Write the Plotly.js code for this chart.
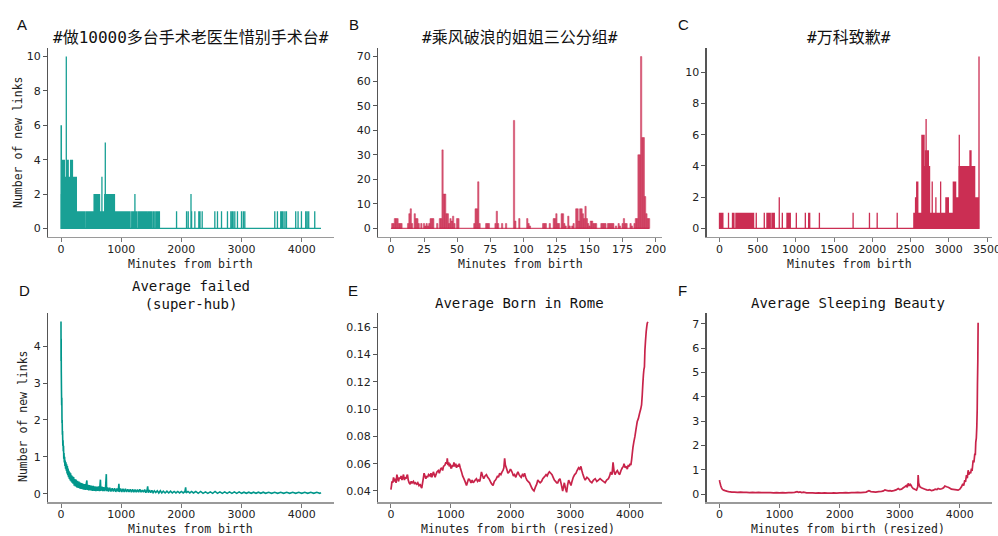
<!DOCTYPE html>
<html><head><meta charset="utf-8">
<script src="https://cdn.plot.ly/plotly-3.0.1.min.js"></script>
<style>body{margin:0;background:#fff}#chart{width:998px;height:536px}</style>
</head><body><div id="chart"></div>
<script>
// ---------- DATA ----------
const panelLetters = ["A","B","C","D","E","F"];
const titles = ["#做10000多台手术老医生惜别手术台#","#乘风破浪的姐姐三公分组#","#万科致歉#",
  "Average failed<br>(super-hub)","Average Born in Rome","Average Sleeping Beauty"];
const xTitles = ["Minutes from birth","Minutes from birth","Minutes from birth",
  "Minutes from birth","Minutes from birth (resized)","Minutes from birth (resized)"];
const yTitle = "Number of new links";

// A: [minute, new links] (non-zero minutes), series ends at minute 4320
const A_end = 4320;
const A_events = [[0,2],[2,6],[4,4],[6,6],[8,3],[10,4],[13,3],[16,4],[19,3],[22,4],[25,3],[28,4],[31,3],[34,4],[37,3],[40,4],
[44,3],[48,4],[52,3],[56,4],[60,3],[64,3],[68,3],[72,3],[76,3],[80,3],[84,3],[88,10],[92,3],[96,3],[100,3],[104,4],[108,3],
[112,4],[116,3],[120,4],[124,3],[128,3],[132,3],[136,3],[140,3],[145,3],[150,3],[155,3],[160,4],[165,3],[170,4],[175,3],
[180,4],[185,3],[190,4],[195,3],[200,3],[205,3],[210,3],[215,3],[220,3],[225,3],[230,3],[235,3],[240,3],[245,3],[250,3],[255,3],
[265,1],[277,1],[289,1],[301,1],[313,1],[325,1],[337,1],[358,1],[370,1],[382,1],[394,1],[418,1],[430,1],[442,1],[454,1],[466,1],
[478,1],[490,1],[502,1],[514,1],[526,1],[538,1],[550,2],[560,2],[570,2],[580,2],[590,2],[600,2],[610,2],[620,2],[630,2],[640,2],
[652,1],[664,1],[680,3],[692,1],[704,1],[716,1],[726,2],[736,5],[746,2],[756,2],[766,2],[776,2],[786,2],[796,2],[806,2],[816,2],
[826,2],[836,2],[846,2],[856,2],[866,2],[876,2],[888,2],[900,1],[912,1],[924,1],[936,1],[948,1],[960,1],[972,1],[984,1],[996,1],
[1008,1],[1020,1],[1040,1],[1052,1],[1064,1],[1076,1],[1088,1],[1100,1],[1112,1],[1124,1],[1136,1],[1148,1],[1175,1],[1187,1],
[1199,1],[1211,1],[1228,2],[1240,1],[1252,1],[1278,1],[1290,1],[1302,1],[1314,1],[1326,1],[1338,1],[1358,1],[1370,1],[1382,1],
[1394,1],[1406,1],[1418,1],[1430,1],[1452,1],[1464,1],[1476,1],[1488,1],[1500,1],[1512,1],[1537,1],[1549,1],[1575,1],[1587,1],
[1599,1],[1611,1],[1623,1],[1635,1],
[1920,1],[2086,1],[2114,1],[2160,2],[2170,1],[2224,1],[2290,1],[2310,1],[2346,1],[2556,1],[2600,1],[2667,1],[2766,1],[2822,1],
[2845,1],[2860,1],[2888,1],[2932,1],[2999,1],[3030,1],[3054,1],[3552,1],[3596,1],[3651,1],[3670,1],[3690,1],[3720,1],[3746,1],
[3900,1],[3939,1],[3995,1],[4066,1],[4090,1],[4116,1],[4216,1]];

// B: [minute, new links] (non-zero minutes), series 0..195
const B_end = 195;
const B_events = [[1,2],[2,2],[3,4],[4,4],[5,4],[6,2],[7,2],[8,2],[13,2],[14,6],[15,8],[16,2],[18,6],[19,4],[20,4],[21,2],[23,2],
[25,2],[26,1],[27,2],[28,1],[29,2],[30,4],[31,4],[32,4],[35,2],[37,4],[38,4],[39,32],[40,14],[41,14],[42,6],[43,6],[44,2],[45,4],
[46,3],[47,5],[48,2],[50,4],[51,4],[63,2],[64,8],[65,8],[66,19],[67,2],[72,2],[73,2],[74,2],[79,2],[80,7],[81,2],[84,2],[87,2],
[93,44],[94,3],[97,4],[103,4],[104,2],[105,1],[115,2],[116,2],[117,2],[120,2],[123,4],[124,4],[125,6],[126,2],[127,2],[129,6],
[130,6],[131,2],[132,1],[134,5],[135,1],[137,1],[138,2],[140,8],[141,8],[142,3],[143,8],[144,8],[145,6],[146,4],[147,9],[148,4],
[149,2],[150,1],[151,3],[152,3],[153,2],[154,2],[155,2],[159,2],[160,2],[161,2],[162,2],[164,2],[165,2],[166,2],[167,2],[168,2],
[170,1],[172,2],[173,1],[175,2],[176,4],[177,2],[178,2],[181,2],[182,1],[184,2],[185,4],[186,4],[187,30],[188,30],[189,70],
[190,37],[191,37],[192,13],[193,6],[194,4],[195,4]];

// C: [minute, new links] (non-zero minutes), series 0..3396
const C_end = 3396;
const C_events = [[0,1],[5,1],[10,1],[15,1],[20,1],[25,1],[30,1],[35,1],[40,1],[44,1],[118,1],[170,1],[180,1],[189,1],
[215,1],[222,1],[230,1],[240,1],[250,1],[258,1],[266,1],[275,1],[283,1],[291,1],[300,1],[308,1],[316,1],[325,1],[333,1],[341,1],
[350,1],[358,1],[366,1],[375,1],[383,1],[391,1],[400,1],[408,1],[416,1],[425,1],[433,1],[441,1],[446,1],[481,1],[586,1],[621,1],
[635,1],[650,1],[664,1],[686,1],[700,1],[717,1],[782,2],[822,1],[883,1],[897,1],[912,1],[926,1],[1005,1],[1123,1],[1167,1],
[1180,1],[1307,1],[1748,1],[1962,1],[2063,1],[2325,1],
[2543,1],[2550,1],[2557,1],[2565,2],[2572,1],[2580,3],[2587,2],[2594,3],[2600,1],[2608,1],[2616,1],[2624,1],[2632,1],[2640,1],
[2648,6],[2655,2],[2662,6],[2669,3],[2676,6],[2683,4],[2690,2],[2696,5],[2703,7],[2710,3],[2718,5],[2725,2],[2732,5],[2740,3],
[2748,4],[2756,1],[2764,1],[2772,1],[2778,1],[2783,3],[2790,1],[2798,1],[2806,1],[2814,1],[2822,1],[2831,2],[2838,1],[2846,1],
[2854,1],[2862,1],[2870,1],[2878,1],[2886,1],[2893,3],[2900,1],[2908,1],[2916,1],[2924,1],[2932,1],[2940,1],[2948,1],[2956,1],
[2962,2],[2970,1],[2978,2],[2986,1],[2994,2],[3002,1],[3010,1],[3018,1],[3026,1],[3034,1],[3042,1],[3050,1],[3059,3],[3066,1],
[3074,3],[3081,1],[3089,3],[3096,2],[3104,1],[3112,2],[3120,1],[3127,2],[3133,4],[3137,6],[3143,3],[3150,4],[3157,2],[3164,4],
[3171,3],[3178,4],[3185,2],[3192,4],[3199,3],[3206,4],[3213,2],[3220,4],[3227,3],[3234,4],[3241,2],[3248,4],[3255,3],[3262,4],
[3270,2],[3277,5],[3284,4],[3290,5],[3297,4],[3304,2],[3311,4],[3318,3],[3325,4],[3332,2],[3338,4],[3345,2],[3352,1],[3359,2],
[3366,1],[3373,2],[3381,2],[3388,1],[3395,11]];

// D: average failed (super-hub) [minute, links]
const D_series = [[0,4.67],[1,3.6],[3,4.2],[5,3.3],[8,2.8],[11,2.4],[14,2.6],[17,1.9],[20,2.0],[23,1.6],[26,1.7],[30,1.3],[34,1.45],
[38,1.15],[42,1.3],[46,0.95],[50,1.1],[55,0.85],[60,1.0],[65,0.75],[70,0.9],[76,0.68],[82,0.85],[88,0.62],[94,0.8],[100,0.55],
[106,0.75],[112,0.5],[118,0.68],[125,0.45],[132,0.62],[139,0.4],[146,0.58],[153,0.36],[160,0.55],[168,0.33],[176,0.5],[184,0.3],
[192,0.47],[200,0.27],[210,0.45],[220,0.22],[230,0.4],[240,0.2],[250,0.38],[262,0.17],[274,0.35],[286,0.16],[298,0.33],[310,0.14],
[322,0.3],[334,0.13],[346,0.29],[358,0.12],[370,0.27],[382,0.11],[394,0.26],[406,0.1],[418,0.25],[430,0.36],[436,0.1],[448,0.24],
[460,0.09],[475,0.23],[490,0.09],[505,0.22],[520,0.08],[535,0.21],[550,0.08],[565,0.2],[580,0.07],[595,0.19],[610,0.08],[625,0.2],
[640,0.07],[655,0.38],[662,0.08],[680,0.19],[695,0.07],[710,0.18],[725,0.07],[740,0.17],[753,0.53],[758,0.07],[775,0.17],[790,0.06],
[810,0.16],[830,0.06],[850,0.15],[870,0.06],[890,0.15],[910,0.05],[930,0.14],[950,0.06],[962,0.27],[970,0.05],[990,0.14],[1010,0.05],
[1030,0.13],[1050,0.05],[1070,0.13],[1090,0.05],[1110,0.12],[1130,0.05],[1150,0.12],[1170,0.04],[1190,0.12],[1210,0.04],[1230,0.11],
[1250,0.04],[1270,0.11],[1290,0.04],[1310,0.12],[1330,0.04],[1350,0.1],[1370,0.04],[1390,0.11],[1410,0.03],[1430,0.1],[1440,0.2],
[1450,0.03],[1470,0.1],[1490,0.03],[1510,0.09],[1530,0.03],[1550,0.08],[1575,0.03],[1600,0.08],[1625,0.02],[1650,0.08],[1675,0.02],
[1700,0.07],[1730,0.02],[1760,0.07],[1790,0.02],[1820,0.07],[1850,0.02],[1880,0.06],[1910,0.02],[1940,0.06],[1970,0.02],[2000,0.06],
[2030,0.02],[2060,0.06],[2071,0.17],[2080,0.02],[2110,0.06],[2140,0.02],[2170,0.06],[2200,0.02],[2240,0.06],[2280,0.01],[2320,0.06],
[2360,0.01],[2400,0.05],[2440,0.01],[2480,0.05],[2520,0.01],[2560,0.06],[2600,0.01],[2640,0.05],[2680,0.01],[2720,0.05],[2760,0.01],
[2800,0.05],[2840,0.01],[2880,0.05],[2920,0.01],[2960,0.05],[3000,0.01],[3040,0.04],[3080,0.01],[3120,0.04],[3160,0.01],[3200,0.04],
[3240,0.01],[3280,0.04],[3320,0.01],[3360,0.04],[3400,0.01],[3450,0.04],[3500,0.01],[3550,0.04],[3600,0.01],[3650,0.04],[3700,0.01],
[3750,0.04],[3800,0.01],[3850,0.04],[3900,0.01],[3950,0.04],[4000,0.01],[4050,0.04],[4100,0.01],[4150,0.04],[4200,0.01],[4250,0.04],
[4300,0.01],[4320,0.03]];

// E: average Born in Rome [resized minute, links]
const E_series = [[0,0.041],[10,0.044],[17,0.047],[30,0.046],[44,0.050],[58,0.047],[72,0.049],[86,0.046],[100,0.052],[115,0.049],
[128,0.047],[142,0.050],[155,0.049],[170,0.051],[185,0.048],[198,0.050],[211,0.052],[225,0.048],[240,0.050],[255,0.049],[265,0.051],
[277,0.052],[290,0.048],[305,0.046],[322,0.045],[340,0.047],[355,0.046],[377,0.047],[395,0.045],[410,0.046],[433,0.045],[450,0.046],
[470,0.044],[488,0.045],[505,0.043],[516,0.042],[530,0.046],[545,0.050],[555,0.053],[570,0.051],[585,0.049],[599,0.051],[615,0.050],
[630,0.052],[655,0.051],[670,0.053],[685,0.050],[700,0.052],[710,0.054],[725,0.052],[740,0.050],[754,0.052],[770,0.054],[793,0.055],
[810,0.053],[830,0.056],[849,0.057],[865,0.055],[880,0.058],[904,0.059],[920,0.061],[935,0.060],[943,0.064],[955,0.059],[968,0.061],
[976,0.058],[990,0.060],[1003,0.057],[1015,0.057],[1030,0.059],[1045,0.058],[1054,0.061],[1070,0.058],[1085,0.060],[1098,0.057],
[1115,0.059],[1130,0.058],[1143,0.060],[1160,0.057],[1182,0.054],[1200,0.051],[1221,0.049],[1240,0.047],[1265,0.044],[1285,0.047],
[1300,0.049],[1320,0.048],[1340,0.046],[1360,0.048],[1376,0.046],[1395,0.047],[1410,0.048],[1431,0.049],[1450,0.047],[1470,0.048],
[1487,0.047],[1500,0.050],[1515,0.054],[1535,0.051],[1553,0.049],[1575,0.051],[1598,0.052],[1620,0.050],[1640,0.049],[1653,0.048],
[1675,0.046],[1690,0.045],[1709,0.044],[1730,0.047],[1750,0.048],[1764,0.049],[1785,0.051],[1800,0.050],[1820,0.053],[1840,0.052],
[1860,0.054],[1875,0.055],[1890,0.057],[1903,0.064],[1915,0.059],[1931,0.057],[1945,0.055],[1958,0.053],[1980,0.054],[2000,0.056],
[2014,0.055],[2035,0.053],[2050,0.051],[2069,0.052],[2090,0.050],[2105,0.052],[2125,0.054],[2145,0.052],[2160,0.051],[2180,0.050],
[2200,0.052],[2220,0.051],[2236,0.053],[2255,0.050],[2275,0.048],[2295,0.047],[2319,0.046],[2340,0.044],[2360,0.042],[2375,0.041],
[2395,0.040],[2419,0.043],[2440,0.045],[2458,0.048],[2475,0.047],[2497,0.046],[2520,0.047],[2541,0.049],[2560,0.050],[2580,0.051],
[2596,0.052],[2615,0.051],[2635,0.053],[2652,0.054],[2675,0.053],[2696,0.052],[2715,0.050],[2735,0.048],[2755,0.047],[2775,0.046],
[2791,0.046],[2810,0.048],[2829,0.049],[2850,0.045],[2874,0.040],[2888,0.043],[2902,0.046],[2920,0.042],[2940,0.039],[2955,0.044],
[2974,0.048],[2995,0.046],[3013,0.044],[3030,0.047],[3051,0.050],[3075,0.052],[3096,0.053],[3115,0.055],[3140,0.057],[3160,0.056],
[3179,0.058],[3195,0.055],[3207,0.053],[3230,0.050],[3251,0.048],[3280,0.050],[3307,0.049],[3335,0.047],[3362,0.046],[3390,0.048],
[3418,0.049],[3445,0.047],[3473,0.048],[3500,0.049],[3528,0.048],[3555,0.047],[3584,0.046],[3610,0.048],[3640,0.049],[3660,0.051],
[3678,0.054],[3700,0.052],[3717,0.061],[3735,0.054],[3750,0.052],[3770,0.054],[3789,0.055],[3810,0.053],[3828,0.052],[3850,0.055],
[3872,0.057],[3890,0.058],[3900,0.060],[3920,0.057],[3939,0.058],[3955,0.056],[3972,0.059],[3990,0.058],[4000,0.060],[4015,0.059],
[4028,0.063],[4040,0.068],[4050,0.072],[4065,0.076],[4083,0.080],[4100,0.085],[4122,0.091],[4140,0.093],[4161,0.097],[4180,0.100],
[4194,0.103],[4205,0.110],[4216,0.119],[4225,0.125],[4233,0.129],[4242,0.131],[4250,0.143],[4260,0.150],[4272,0.157],[4280,0.160],
[4289,0.163],[4300,0.164]];

// F: average Sleeping Beauty [resized minute, links]
const F_series = [[0,0.57],[5,0.5],[11,0.44],[20,0.35],[30,0.28],[39,0.23],[55,0.18],[70,0.16],[94,0.14],[120,0.12],[150,0.1],[180,0.09],
[205,0.08],[250,0.08],[300,0.07],[350,0.08],[400,0.07],[450,0.07],[500,0.06],[550,0.07],[600,0.06],[650,0.07],[700,0.06],[759,0.06],
[800,0.06],[850,0.06],[900,0.05],[950,0.06],[1000,0.05],[1050,0.06],[1100,0.05],[1150,0.06],[1200,0.06],[1250,0.07],[1290,0.1],
[1313,0.07],[1340,0.09],[1370,0.06],[1400,0.08],[1450,0.05],[1500,0.05],[1550,0.05],[1600,0.04],[1650,0.05],[1700,0.04],[1750,0.05],
[1800,0.04],[1867,0.04],[1900,0.05],[1950,0.04],[2000,0.05],[2050,0.05],[2100,0.06],[2150,0.05],[2200,0.06],[2250,0.06],[2300,0.07],
[2350,0.06],[2400,0.07],[2440,0.08],[2488,0.14],[2520,0.1],[2560,0.09],[2600,0.08],[2650,0.1],[2698,0.11],[2730,0.13],[2753,0.17],
[2780,0.15],[2810,0.13],[2840,0.14],[2864,0.12],[2900,0.14],[2940,0.17],[2975,0.23],[3000,0.18],[3030,0.2],[3060,0.26],[3086,0.3],
[3110,0.35],[3125,0.28],[3141,0.44],[3160,0.34],[3175,0.4],[3186,0.37],[3200,0.3],[3224,0.23],[3250,0.2],[3280,0.16],[3300,0.3],
[3307,0.78],[3315,0.45],[3335,0.3],[3360,0.26],[3390,0.23],[3420,0.2],[3450,0.17],[3474,0.16],[3500,0.18],[3529,0.14],[3560,0.16],
[3590,0.2],[3620,0.18],[3640,0.23],[3670,0.2],[3700,0.22],[3730,0.26],[3751,0.33],[3780,0.3],[3806,0.28],[3830,0.25],[3860,0.2],
[3889,0.19],[3920,0.18],[3950,0.17],[3972,0.16],[4000,0.2],[4028,0.3],[4050,0.42],[4065,0.35],[4083,0.57],[4095,0.5],[4111,0.78],
[4125,0.65],[4139,0.98],[4150,0.8],[4166,0.91],[4180,0.85],[4194,1.05],[4205,0.95],[4222,1.39],[4235,1.3],[4250,1.66],[4258,1.6],
[4266,2.14],[4275,2.3],[4283,2.76],[4290,3.5],[4294,4.53],[4300,5.5],[4305,7.05]];

// ---------- BUILD ----------
const TEAL = "#00968a", RED = "#c8234a";
function spikeLine(events, tEnd){
  const x=[0], y=[0];
  for (const [t,v] of events){ x.push(Math.max(t-0.5,0), t, t+0.5); y.push(0, v, 0); }
  x.push(tEnd); y.push(0);
  return {x, y};
}
const sA = spikeLine(A_events, A_end), sC = spikeLine(C_events, C_end);
const col = a => a.map(p=>p[0]), val = a => a.map(p=>p[1]);

const traces = [
  {type:"scatter", mode:"lines", x:sA.x, y:sA.y, xaxis:"x", yaxis:"y", line:{color:"rgba(0,150,138,0.9)", width:1.3, simplify:false}},
  {type:"scatter", mode:"lines", x:[0,B_end], y:[0,0], xaxis:"x2", yaxis:"y2", line:{color:"rgba(200,35,74,0.8)", width:1.3, simplify:false}},
  {type:"bar", x:col(B_events), y:val(B_events), width:1, xaxis:"x2", yaxis:"y2",
    marker:{color:"rgba(200,35,74,0.72)", line:{color:"rgba(200,35,74,0.9)", width:0.5}}},
  {type:"scatter", mode:"lines", x:sC.x, y:sC.y, xaxis:"x3", yaxis:"y3", line:{color:"rgba(200,35,74,0.95)", width:1.3, simplify:false}},
  {type:"scatter", mode:"lines", x:col(D_series), y:val(D_series), xaxis:"x4", yaxis:"y4", line:{color:TEAL, width:1.6, simplify:false}},
  {type:"scatter", mode:"lines", x:col(E_series), y:val(E_series), xaxis:"x5", yaxis:"y5", line:{color:RED, width:1.7, simplify:false}},
  {type:"scatter", mode:"lines", x:col(F_series), y:val(F_series), xaxis:"x6", yaxis:"y6", line:{color:RED, width:1.7, simplify:false}}
];

const W=998, H=536;
const px = v => v/W, py = v => 1 - v/H;
const tickFont = {family:"DejaVu Sans, Liberation Sans, sans-serif", size:11, color:"#222"};
function xa(dom, range, dtick, anchor){
  return {domain:[px(dom[0]),px(dom[1])], range:range, dtick:dtick, tick0:0, anchor:anchor,
    showgrid:false, zeroline:false, showline:true, linecolor:"#9a9a9a", linewidth:1.3,
    ticks:"outside", ticklen:4, tickcolor:"#777", tickfont:tickFont, ticklabelstandoff:-3, ticklabeloverflow:"allow"};
}
function ya(dom, range, dtick, anchor, fmt){
  const o = {domain:[py(dom[1]),py(dom[0])], range:range, dtick:dtick, tick0:0, anchor:anchor,
    showgrid:false, zeroline:false, showline:true, linecolor:"#555", linewidth:1.1,
    ticks:"outside", ticklen:4, tickcolor:"#555", tickfont:tickFont};
  if (fmt) o.tickformat = fmt;
  return o;
}
const rowTop = [48, 237], rowBot = [313.3, 502.3];
const colA = [48, 334], colB = [378, 662], colC = [706.5, 992];

const layout = {
  width:W, height:H, margin:{l:0,r:0,t:0,b:0}, paper_bgcolor:"#fff", plot_bgcolor:"#fff",
  showlegend:false, hovermode:false, bargap:0,
  xaxis: xa(colA, [-216,4536], 1000, "y"),
  yaxis: ya(rowTop, [-0.5,10.5], 2, "x"),
  xaxis2: xa(colB, [-9.75,204.75], 25, "y2"),
  yaxis2: ya(rowTop, [-3.5,73.5], 10, "x2"),
  xaxis3: xa(colC, [-170,3565], 500, "y3"),
  yaxis3: ya(rowTop, [-0.55,11.55], 2, "x3"),
  xaxis4: xa(colA, [-216,4536], 1000, "y4"),
  yaxis4: ya(rowBot, [-0.233,4.89], 1, "x4"),
  xaxis5: xa(colB, [-216,4536], 1000, "y5"),
  yaxis5: Object.assign(ya(rowBot, [0.0317,0.1702], 0.02, "x5", ".2f"), {tick0:0.04}),
  xaxis6: xa(colC, [-216,4536], 1000, "y6"),
  yaxis6: ya(rowBot, [-0.34,7.44], 1, "x6"),
  annotations: []
};

function ann(text, x, y, font, extra){
  layout.annotations.push(Object.assign({text:text, x:px(x), y:py(y), xref:"paper", yref:"paper",
    xanchor:"center", yanchor:"middle", showarrow:false, font:font}, extra||{}));
}
const letterFont = {family:"Liberation Sans, Arial, sans-serif", size:15, color:"#111"};
const cjkFont = {family:"DejaVu Sans Mono, Noto Sans CJK SC, monospace", size:16, color:"#111"};
const enTitleFont = {family:"DejaVu Sans Mono, monospace", size:14, color:"#111"};
const axFont = {family:"DejaVu Sans Mono, monospace", size:11.5, color:"#222"};

const letterPos = [[22,24],[354,24],[683,24],[24,290],[353,290],[682,290]];
letterPos.forEach((p,i)=>ann(panelLetters[i], p[0], p[1], letterFont));
ann(titles[0], 190.5, 37, cjkFont);
ann(titles[1], 519.5, 37, cjkFont);
ann(titles[2], 849, 37, cjkFont);
ann(titles[3], 191, 294.5, enTitleFont);
ann(titles[4], 519, 303, enTitleFont);
ann(titles[5], 848, 303, enTitleFont);
const xtPos = [[190,264],[520,264],[849,264],[190,529],[518,529],[848,529]];
xtPos.forEach((p,i)=>ann(xTitles[i], p[0], p[1], axFont));
ann(yTitle, 17.5, 142.5, axFont, {textangle:-90});
ann(yTitle, 23, 416, axFont, {textangle:-90});

Plotly.newPlot("chart", traces, layout, {staticPlot:true, displayModeBar:false});
</script>
</body></html>
